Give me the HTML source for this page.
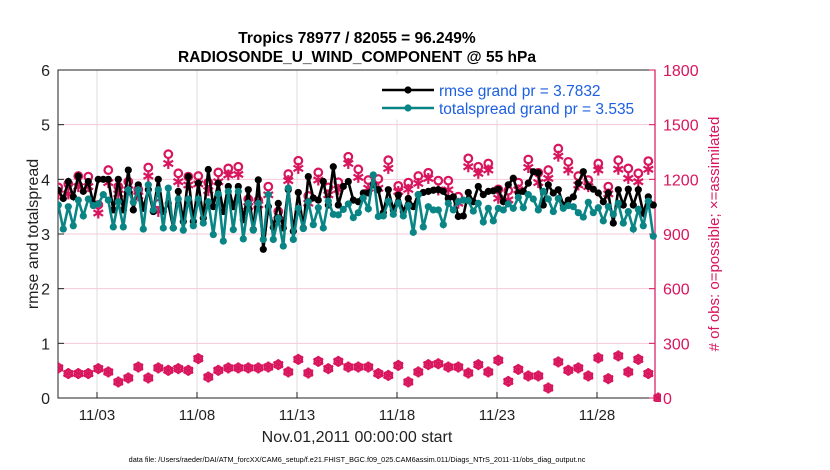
<!DOCTYPE html>
<html><head><meta charset="utf-8"><style>
body{margin:0;background:#fff;width:830px;height:470px;overflow:hidden}
svg{display:block;font-family:"Liberation Sans",sans-serif}
</style></head><body>
<svg id="c" width="830" height="470"></svg>
<script>
const teal=[3.53,3.09,3.5,3.15,3.62,3.33,3.64,3.52,3.55,3.72,3.62,3.13,3.59,3.13,3.81,3.58,3.81,3.09,3.9,3.44,3.81,3.11,3.84,3.11,3.64,3.07,3.64,3.15,3.64,3.2,3.59,2.99,3.73,2.87,3.78,3.08,3.78,2.91,3.56,3.07,
3.56,2.9,3.72,2.9,3.29,2.78,3.84,2.9,3.47,3.1,3.59,3.17,3.48,3.11,3.6,3.36,3.35,3.45,3.55,3.3,3.39,3.66,3.46,4.08,3.32,3.33,3.6,3.36,3.57,3.33,3.52,3.03,3.72,3.13,3.5,3.44,3.44,3.17,3.56,3.44,3.59,
3.62,3.61,3.42,3.56,3.22,3.47,3.24,3.47,3.44,3.55,3.47,3.67,3.48,3.72,3.64,3.44,3.78,3.64,3.41,3.65,3.47,3.52,3.5,3.39,3.31,3.58,3.39,3.48,3.24,3.5,3.36,3.56,3.2,3.41,3.09,3.45,3.15,3.6,2.96];
const rmse=[3.8,3.65,3.96,3.68,4.06,3.78,3.96,3.56,4.0,4.0,4.0,3.44,4.0,3.44,4.17,3.44,3.9,3.47,3.81,3.41,4.0,3.41,3.56,3.11,3.78,3.23,4.05,3.23,3.93,3.29,4.18,3.5,3.93,3.41,3.87,3.5,3.87,3.26,3.81,3.08,
3.99,2.72,3.5,3.12,3.56,3.11,3.81,3.05,3.76,3.11,4.05,3.66,3.62,3.96,3.53,4.23,3.53,3.87,3.96,3.62,3.59,3.75,3.75,3.9,3.81,3.39,3.81,3.44,3.71,3.41,3.65,3.5,3.72,3.76,3.78,3.8,3.81,3.78,3.65,3.68,3.32,
3.33,3.76,3.59,3.87,3.72,3.78,3.79,3.82,3.59,3.9,4.02,3.75,3.78,3.93,4.14,4.12,3.53,3.9,3.75,3.81,3.53,3.62,3.68,3.93,4.14,3.87,3.82,3.75,3.59,3.75,3.2,3.81,3.53,3.82,3.53,3.81,3.38,3.68,3.53];
const possible=[1156,1175,1218,1215,1060,1251,1160,1187,1145,1265,1065,1338,1233,1215,1218,1182,1238,1260,1269,1091,
1084,1160,1024,1229,1302,1109,1238,1156,1184,1324,1255,1196,1202,1305,1164,1182,1218,1236,1193,1193,1105,
1315,1269,1287,1145,1138,1182,1309,1236,1251,1369,1296,1218,1196,1287,1160,1305,1260,1233,1300];
const assimilated=[1120,1120,1160,1160,1015,1182,1120,1142,1109,1218,1024,1287,1187,1169,1175,1138,1187,1224,1227,1051,
1060,1115,978,1193,1260,1069,1196,1115,1145,1287,1211,1151,1151,1260,1133,1145,1178,1205,1142,1142,1069,
1269,1233,1251,1096,1087,1142,1265,1182,1205,1327,1251,1169,1160,1251,1120,1255,1205,1187,1255];
const bottomCount=[165,134,134,134,161,143,88,110,170,110,165,152,161,152,216,115,152,165,165,165,165,170,183,143,212,137,201,161,201,170,170,170,134,124,179,88,143,183,188,170,170,137,183,143,207,91,157,121,121,55,198,152,165,121,220,106,231,143,212,134,0];
const xTicks=["11/03","11/08","11/13","11/18","11/23","11/28"];
const xTickDays=[2,7,12,17,22,27];
const yTicks=[0,1,2,3,4,5,6];
const rTicks=[0,300,600,900,1200,1500,1800];

const L=58,R=655,T=70,B=398,RED="#d8155d",TEAL="#0a8585";
const X=d=>57+20*d;
const Y=v=>B-(v/6)*(B-T);
const YR=c=>B-(c/1800)*(B-T);
const svg=document.getElementById('c');
const NS="http://www.w3.org/2000/svg";
function mk(tag,at,parent){const e=document.createElementNS(NS,tag);for(const k in at)e.setAttribute(k,at[k]);(parent||svg).appendChild(e);return e;}

const defs=mk('defs',{});const cp=mk('clipPath',{id:'pc'},defs);mk('rect',{x:L,y:T-10,width:R-L+6,height:B-T+14},cp);

xTickDays.forEach((d,i)=>{const g=mk('line',{x1:X(d),x2:X(d),y1:T,y2:B,stroke:'#dcdcdc','stroke-width':1});

});
yTicks.forEach(v=>{if(v>0&&v<6){const g=mk('line',{x1:L,x2:R,y1:Y(v),y2:Y(v),stroke:'#f6c9da','stroke-width':1});

}});

const ax=mk('rect',{x:L,y:T,width:R-L,height:B-T,fill:'none',stroke:'#222','stroke-width':1});


mk('line',{x1:R,x2:R,y1:T,y2:B,stroke:RED,'stroke-width':1.2});

yTicks.forEach(v=>{mk('line',{x1:L,x2:L+6,y1:Y(v),y2:Y(v),stroke:'#222'});
const t=mk('text',{x:L-8,y:Y(v)+6,'text-anchor':'end','font-size':16,fill:'#222'});t.textContent=v;

});
rTicks.forEach(c=>{mk('line',{x1:R-6,x2:R,y1:YR(c),y2:YR(c),stroke:RED});
const t=mk('text',{x:R+8,y:YR(c)+6,'font-size':16,fill:RED});t.textContent=c;

});
xTickDays.forEach((d,i)=>{mk('line',{x1:X(d),x2:X(d),y1:B,y2:B-6,stroke:'#222'});
const t=mk('text',{x:X(d),y:B+22,'text-anchor':'middle','font-size':15,fill:'#222'});t.textContent=xTicks[i];

});

const g=mk('g',{'clip-path':'url(#pc)'});
function line(vals,col,name){
  const tt=i=>0.065+0.25*i;
  const p=mk('polyline',{points:vals.map((v,i)=>X(tt(i))+','+Y(v)).join(' '),fill:'none',stroke:col,'stroke-width':2.6},g);
  
  
  vals.forEach((v,i)=>{const c=mk('circle',{cx:X(tt(i)),cy:Y(v),r:3.6,fill:col},g);
  
  });
}
function star(x,y,name){
  const s=mk('g',{stroke:RED,'stroke-width':2.2},g);
  
  
  [[0,5.5],[4.8,2.8],[4.8,-2.8]].forEach(([a,b])=>mk('line',{x1:x-a,y1:y-b,x2:x+a,y2:y+b},s));
}
function ring(x,y,name){const c=mk('circle',{cx:x,cy:y,r:3.8,fill:'none',stroke:RED,'stroke-width':2.2},g);

}
const pt=j=>0.065+0.5*j;
possible.forEach((c,j)=>ring(X(pt(j)),YR(c),'possible-marker'));
assimilated.forEach((c,j)=>star(X(pt(j)),YR(c),'assimilated-marker'));
line(rmse,'#000','rmse');
line(teal,TEAL,'totalspread');
bottomCount.forEach((c,j)=>{star(X(pt(j)),YR(c),'obs-count-assimilated');ring(X(pt(j)),YR(c),'obs-count-possible');});

const lg=mk('g',{});
mk('rect',{x:378,y:75,width:271,height:44,fill:'#fff',stroke:'#fff'},lg);
[['rmse grand pr = 3.7832','#000',91],['totalspread grand pr = 3.535',TEAL,109]].forEach(([s,col,y])=>{
 mk('line',{x1:382,x2:434,y1:y-1,y2:y-1,stroke:col,'stroke-width':2.6},lg);
 mk('circle',{cx:408,cy:y-1,r:3.6,fill:col},lg);
 const t=mk('text',{x:439,y:y+5,'font-size':15.5,fill:'#1c5fe0'},lg);t.textContent=s;
 
 
});

function txt(s,at,name){const t=mk('text',at);t.textContent=s;

return t;}
txt('Tropics 78977 / 82055 = 96.249%',{x:357,y:43,'text-anchor':'middle','font-size':15.5,'font-weight':'bold',fill:'#000'},'chart-title');
txt('RADIOSONDE_U_WIND_COMPONENT @ 55 hPa',{x:357,y:62,'text-anchor':'middle','font-size':15.5,'font-weight':'bold',fill:'#000'},'chart-subtitle');
txt('Nov.01,2011 00:00:00 start',{x:357,y:442,'text-anchor':'middle','font-size':16,fill:'#222'},'x-axis-title');
txt('rmse and totalspread',{x:0,y:0,transform:'translate(38,234) rotate(-90)','text-anchor':'middle','font-size':16,fill:'#222'},'y-axis-title');
txt('# of obs: o=possible; \u00d7=assimilated',{x:0,y:0,transform:'translate(719,234) rotate(-90)','text-anchor':'middle','font-size':15,fill:RED},'right-axis-title');
txt('data file: /Users/raeder/DAI/ATM_forcXX/CAM6_setup/f.e21.FHIST_BGC.f09_025.CAM6assim.011/Diags_NTrS_2011-11/obs_diag_output.nc',{x:357,y:462,'text-anchor':'middle','font-size':7.3,fill:'#000'},'data-file-note');
</script>
</body></html>
